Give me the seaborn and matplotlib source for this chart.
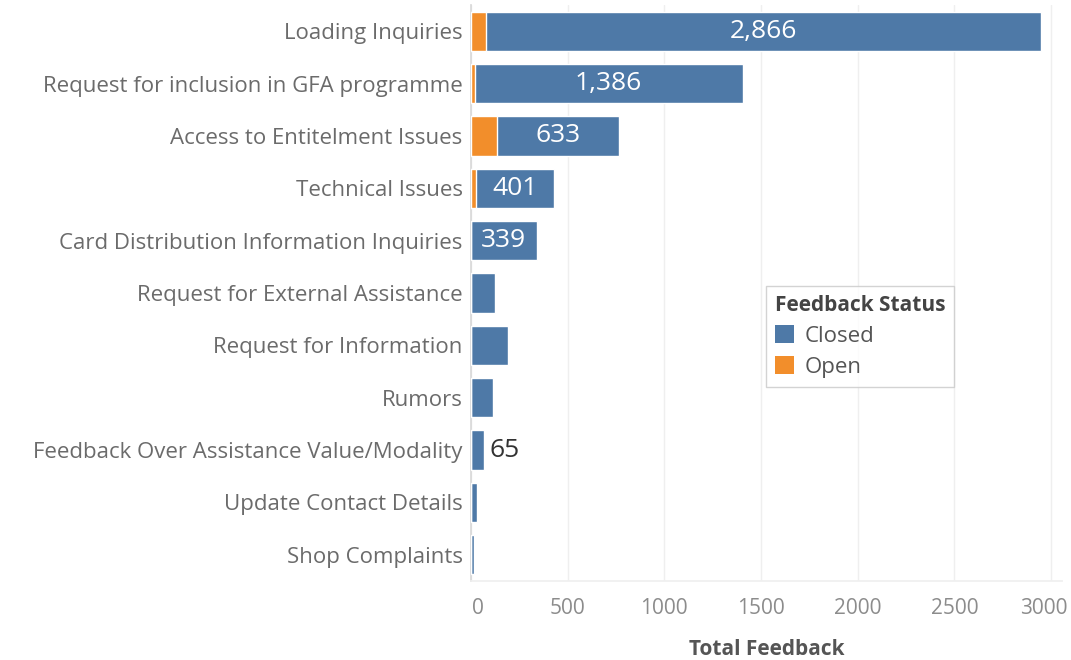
import matplotlib
matplotlib.use("Agg")
import matplotlib.pyplot as plt
import matplotlib.transforms as mtransforms
import seaborn as sns
import pandas as pd
from matplotlib.patches import Patch

categories = [
    "Loading Inquiries",
    "Request for inclusion in GFA programme",
    "Access to Entitelment Issues",
    "Technical Issues",
    "Card Distribution Information Inquiries",
    "Request for External Assistance",
    "Request for Information",
    "Rumors",
    "Feedback Over Assistance Value/Modality",
    "Update Contact Details",
    "Shop Complaints",
]
closed = [2866, 1386, 633, 401, 339, 125, 190, 112, 65, 32, 14]
open_ = [80, 19, 132, 26, 0, 0, 0, 0, 0, 0, 0]
# which bars carry their "Closed" count as a text label
show_label = [True, True, True, True, True, False, False, False, True, False, False]
x_ticks = [0, 500, 1000, 1500, 2000, 2500, 3000]

BLUE = "#4e79a7"
ORANGE = "#f28e2b"
FONT = ["Open Sans", "DejaVu Sans"]

sns.set_theme(style="white")
plt.rcParams["font.family"] = FONT

df = pd.DataFrame({"category": categories, "closed": closed, "open": open_})
df["total"] = df["closed"] + df["open"]

fig = plt.figure(figsize=(10.71, 6.60), dpi=100)
ax = fig.add_axes([0.4398, 0.1197, 0.5518, 0.8727])

# Stacked bars: full total in blue, the open share in orange from zero
sns.barplot(data=df, y="category", x="total", color=BLUE, orient="h",
            width=0.75, ax=ax, saturation=1, order=categories, zorder=2)
sns.barplot(data=df, y="category", x="open", color=ORANGE, orient="h",
            width=0.75, ax=ax, saturation=1, order=categories, zorder=3)

ax.set_xlim(0, 3057)
ax.set_ylim(10.5, -0.5)
ax.set_xticks(x_ticks)
ax.set_xticklabels([str(t) for t in x_ticks])
ax.xaxis.grid(True, color="#efefef", linewidth=1, zorder=0)
ax.yaxis.grid(False)
ax.set_axisbelow(True)

for s in ["top", "right"]:
    ax.spines[s].set_visible(False)
ax.spines["left"].set_color("#d9d9d9")
ax.spines["left"].set_zorder(1)
ax.spines["bottom"].set_color("#efefef")

ax.tick_params(axis="y", length=0, pad=6, labelsize=16, labelcolor="#6b6b6b")
ax.tick_params(axis="x", length=0, pad=12, labelsize=15, labelcolor="#8c8c8c")
ax.set_ylabel("")
ax.set_xlabel("Total Feedback", fontsize=15, fontweight="bold", color="#555555",
              labelpad=15)

# keep the outer tick labels inside the figure
xlabels = ax.get_xticklabels()
xlabels[0].set_transform(xlabels[0].get_transform() +
                         mtransforms.ScaledTranslation(7 / 100, 0, fig.dpi_scale_trans))
xlabels[-1].set_transform(xlabels[-1].get_transform() +
                          mtransforms.ScaledTranslation(-7 / 100, 0, fig.dpi_scale_trans))

# Closed-count labels: inside the blue segment when wide enough, else beside it
for i, (c, o, show) in enumerate(zip(closed, open_, show_label)):
    if not show:
        continue
    txt = f"{c:,}"
    if c > 300:
        ax.text(o + c / 2, i, txt, ha="center", va="center", color="white",
                fontsize=19, zorder=5)
    else:
        ax.text(o + c + 30, i, txt, ha="left", va="center", color="#333333",
                fontsize=19, zorder=5)

handles = [Patch(facecolor=BLUE, edgecolor="none", label="Closed"),
           Patch(facecolor=ORANGE, edgecolor="none", label="Open")]
leg = ax.legend(handles=handles, title="Feedback Status", loc="upper left",
                bbox_to_anchor=(0.499, 0.512), borderaxespad=0, frameon=True,
                fancybox=False, fontsize=16, title_fontsize=15,
                handlelength=0.85, handleheight=0.85, handletextpad=0.5,
                borderpad=0.4, labelspacing=0.42, alignment="left")
leg.get_title().set_fontweight("bold")
leg.get_title().set_color("#444444")
for t in leg.get_texts():
    t.set_color("#555555")
leg.get_frame().set_edgecolor("#c8c8c8")
leg.get_frame().set_linewidth(1.0)

fig.savefig("out.png", dpi=100)
